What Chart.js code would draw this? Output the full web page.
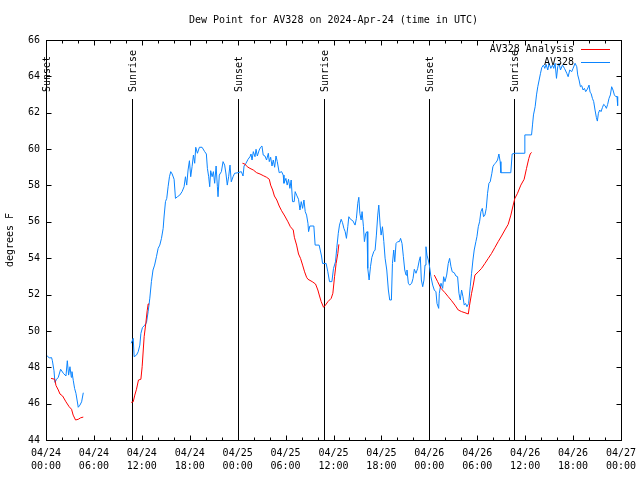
<!DOCTYPE html>
<html>
<head>
<meta charset="utf-8">
<script src="https://cdn.jsdelivr.net/npm/chart.js@4"></script>
<style>
  html, body { margin: 0; padding: 0; background: #fff; }
  canvas { display: block; }
</style>
</head>
<body>
<canvas id="dew-chart" width="640" height="480"></canvas>
<script>
// hours since 04/24 00:00 UTC, null = gap in the record
const obsHours = [
  0.08, 0.42, 0.7, 0.8, 1.0, 1.12, 1.33, 1.54, 1.83, 2.17, 2.5, 2.67, 2.83, 3.0, 3.17, 3.25, 3.42, 3.58, 3.75, 4.04, 4.25, 4.46, 4.67,
  7,
  10.67, 10.92, 11.04, 11.33, 11.54, 11.75, 11.88, 12.08, 12.38, 12.58, 12.79, 13.0, 13.2, 13.4, 13.6, 13.83, 14.04, 14.25, 14.46, 14.67, 14.79, 14.96,
  15.12, 15.29, 15.46, 15.62, 15.8, 16.04, 16.21, 16.46, 16.75, 17.04, 17.29, 17.46, 17.62, 17.79, 17.96, 18.12, 18.29, 18.46, 18.62, 18.75, 18.96,
  19.21, 19.54, 19.87, 20.08, 20.21, 20.37, 20.5, 20.62, 20.8, 20.96, 21.12, 21.3, 21.46, 21.54, 21.7, 21.96, 22.17, 22.37, 22.54, 22.7, 22.87,
  23.04, 23.2, 23.42, 23.62, 24.04, 24.46, 24.67, 24.8, 25.04, 25.3, 25.54, 25.67, 25.8, 25.96, 26.17, 26.3, 26.46, 26.7, 26.87, 27.04, 27.2,
  27.42, 27.62, 27.84, 27.96, 28.13, 28.3, 28.46, 28.63, 28.8, 28.96, 29.2, 29.5, 29.7, 29.8, 30.04, 30.2, 30.37, 30.54, 30.7, 30.87, 31.08,
  31.2, 31.38, 31.62, 31.8, 31.96, 32.13, 32.3, 32.46, 32.63, 32.8, 32.88, 33.04, 33.54, 33.7, 34.2, 34.5, 34.63, 35.08, 35.29, 35.5, 35.8,
  36.0, 36.25, 36.42, 36.6, 36.75, 36.96, 37.13, 37.3, 37.46, 37.62, 37.79, 37.92, 38.13, 38.42, 38.7, 38.87, 39.04, 39.17, 39.3, 39.46, 39.58,
  39.75, 39.87, 40.04, 40.2, 40.29, 40.46, 40.63, 40.8, 41.04, 41.21, 41.37, 41.54, 41.67, 41.84, 41.96, 42.13, 42.3, 42.46, 42.67, 42.87,
  43.04, 43.25, 43.38, 43.54, 43.67, 43.83, 44.04, 44.25, 44.4, 44.58, 44.75, 44.92, 45.08, 45.2, 45.37, 45.54, 45.79, 45.96, 46.12, 46.33,
  46.54, 46.75, 46.87, 47.0, 47.17, 47.33, 47.46, 47.58, 47.7, 47.87, 48.0, 48.2, 48.42, 48.62, 48.83, 48.96, 49.17, 49.25, 49.46, 49.67,
  49.79, 49.96, 50.17, 50.37, 50.54, 50.71, 50.87, 51.12, 51.33, 51.54, 51.71, 51.87, 52.04, 52.21, 52.37, 52.54, 52.71, 52.92, 53.12, 53.29,
  53.46, 53.62, 53.83, 53.96, 54.13, 54.29, 54.46, 54.63, 54.79, 54.96, 55.13, 55.29, 55.46, 55.62, 55.83, 55.96, 56.12, 56.33, 56.54, 56.71,
  56.87, 56.96, 58.2, 58.37, 58.71, 59.87, 59.96, 60.8, 60.92, 61.04, 61.25, 61.42, 61.58, 61.75, 61.92, 62.08, 62.29, 62.46, 62.62, 62.83,
  63.0, 63.21, 63.42, 63.58, 63.75, 63.92, 64.08, 64.25, 64.42, 64.67, 64.92, 65.21, 65.38, 65.58, 65.83, 66.0, 66.25, 66.46, 66.58, 66.75,
  66.92, 67.08, 67.25, 67.42, 67.58, 67.79, 68.0, 68.13, 68.25, 68.42, 68.58, 68.75, 68.92, 69.04, 69.17, 69.33, 69.5, 69.67, 69.83, 70.0,
  70.17, 70.33, 70.5, 70.67, 70.83, 71.0, 71.17, 71.33, 71.5, 71.58
];
const obsDewPoint = [
  48.66, 48.51, 48.53, 48.36, 47.81, 47.17, 47.34, 47.45, 47.89, 47.67, 47.52, 48.36, 47.57, 48.03, 47.45, 47.76, 47.26, 46.84, 46.57, 45.8, 45.92, 46.1, 46.6,
  null,
  49.32, 49.59, 48.58, 48.67, 48.85, 49.22, 49.86, 50.19, 50.32, 50.45, 51.06, 51.8, 52.71, 53.35, 53.62, 54.08, 54.54, 54.72, 55.09, 55.64, 56.32, 57.11,
  57.29, 57.93, 58.48, 58.76, 58.63, 58.34, 57.29, 57.38, 57.47, 57.66, 57.93, 58.48, 58.02, 58.85, 59.36, 58.48, 59.03, 59.67, 59.22, 60.1, 59.77,
  60.1, 60.1, 59.86, 59.73, 58.94, 58.48, 57.93, 58.81, 58.48, 58.76, 58.12, 59.07, 57.93, 57.38, 58.57, 58.76, 59.31, 59.12, 58.63, 58.02, 58.48,
  59.12, 58.2, 58.48, 58.67, 58.7, 58.76, 58.52, 59.07, 59.22, 59.44, 59.58, 59.73, 59.4, 59.86, 59.58, 59.99, 59.62, 59.95, 60.1, 60.17, 59.67,
  59.62, 59.4, 59.77, 59.31, 59.55, 59.07, 59.4, 59.0, 59.62, 59.31, 58.7, 58.76, 58.57, 58.12, 58.39, 58.02, 58.34, 57.84, 58.3, 57.11, 57.11,
  57.66, 57.47, 57.24, 56.65, 57.11, 56.74, 57.2, 56.56, 56.37, 55.92, 55.46, 55.77, 55.77, 54.72, 54.72, 54.12, 53.71, 53.71, 53.25, 52.71, 52.71,
  53.44, 53.8, 54.6, 55.37, 55.82, 56.14, 55.95, 55.64, 55.46, 55.09, 55.73, 56.28, 56.14, 56.06, 55.82, 56.19, 57.02, 57.35, 56.47, 56.1, 56.56,
  55.73, 54.91, 55.37, 55.46, 53.44, 52.8, 53.53, 54.04, 54.36, 54.45, 55.27, 56.37, 56.92, 55.82, 55.27, 55.73, 54.91, 54.0, 53.35, 52.25,
  51.7, 51.7, 53.71, 54.45, 53.8, 54.81, 54.91, 54.91, 55.09, 54.81, 54.08, 53.35, 53.07, 53.35, 52.62, 52.52, 52.62, 52.89, 53.39, 53.17,
  53.44, 53.9, 54.08, 52.8, 52.43, 52.8, 53.62, 54.63, 54.17, 53.9, 53.62, 52.98, 52.52, 52.25, 52.15, 51.51, 51.24, 52.07, 52.62, 52.34,
  52.98, 52.71, 53.07, 53.71, 53.99, 53.53, 53.25, 53.2, 53.02, 52.98, 52.07, 51.7, 52.25, 51.88, 51.42, 51.51, 51.33, 51.51, 52.43, 53.17,
  53.9, 54.45, 54.91, 55.18, 55.73, 56.0, 56.56, 56.74, 56.28, 56.37, 56.74, 57.57, 58.12, 58.2, 58.67, 59.03, 59.16, 59.25, 59.4, 59.73,
  59.31, 58.7, 58.7, 59.73, 59.77, 59.77, 60.78, 60.78, 61.33, 61.88, 62.33, 62.98, 63.43, 63.8, 64.17, 64.48, 64.62, 64.44, 64.66, 64.35,
  64.72, 64.44, 64.62, 64.44, 64.72, 63.89, 64.53, 64.72, 64.35, 64.62, 64.44, 64.17, 63.98, 64.35, 64.26, 64.44, 64.72, 64.53, 64.08, 63.8,
  63.43, 63.49, 63.25, 63.34, 63.16, 63.3, 63.52, 63.12, 63.07, 62.79, 62.61, 62.15, 61.73, 61.54, 61.97, 62.15, 62.06, 62.28, 62.46, 62.39,
  62.24, 62.46, 62.79, 62.98, 63.43, 63.25, 62.98, 62.89, 62.89, 62.39
];

const analysisHours = [
  0.63, 1.1, 1.25, 1.54, 1.75, 2.08, 2.5, 2.9, 3.2, 3.4, 3.7, 4.04, 4.33, 4.67,
  7,
  10.67, 10.92, 11.12, 11.33, 11.58, 11.88, 12.04, 12.29, 12.5, 12.67, 12.79, 12.92,
  18,
  24.6, 24.9, 25.2, 25.54, 25.96, 26.38, 26.8, 27.2, 27.62, 27.96, 28.13, 28.38, 28.6, 28.9, 29.2, 29.5, 29.9, 30.3, 30.6, 30.96, 31.1,
  31.38, 31.62, 31.87, 32.13, 32.38, 32.63, 32.8, 33.33, 33.75, 34.04, 34.25, 34.46, 34.75, 35.0, 35.3, 35.71, 35.92, 36.13, 36.33, 36.54, 36.67,
  42,
  48.62, 49.04, 49.46, 49.96, 50.37, 50.79, 51.2, 51.62, 52.04, 52.46, 52.88, 53.04, 53.29, 53.5, 53.71, 54.13, 54.54, 54.96, 55.38, 55.79,
  56.21, 56.62, 57.04, 57.46, 57.87, 58.21, 58.5, 58.71, 59.04, 59.46, 59.87, 60.17, 60.46, 60.63, 60.8
];
const analysisDewPoint = [
  47.39, 47.34, 47.0, 46.75, 46.53, 46.42, 46.1, 45.83, 45.69, 45.37, 45.1, 45.14, 45.22, 45.26,
  null,
  46.07, 46.1, 46.47, 46.79, 47.3, 47.34, 48.03, 49.68, 50.42, 51.11, 51.48, 51.48,
  null,
  59.22, 59.18, 59.03, 58.94, 58.85, 58.7, 58.63, 58.54, 58.45, 58.34, 58.02, 57.75, 57.42, 57.2, 56.87, 56.61, 56.32, 56.0, 55.73, 55.55, 55.15,
  54.72, 54.23, 53.99, 53.62, 53.25, 52.95, 52.84, 52.71, 52.58, 52.25, 51.92, 51.61, 51.3, 51.42, 51.61, 51.79, 52.07, 52.98, 53.71, 54.26, 54.76,
  null,
  53.07, 52.71, 52.34, 52.1, 51.88, 51.66, 51.42, 51.15, 51.06, 51.0, 50.93, 51.42, 52.07, 52.52, 53.07, 53.25, 53.44, 53.71, 53.99, 54.26,
  54.59, 54.91, 55.22, 55.55, 55.86, 56.37, 56.92, 57.29, 57.57, 58.02, 58.34, 58.94, 59.49, 59.73, 59.82
];

const sunHours = [0, 10.75, 24.05, 34.75, 47.95, 58.65];
const sunLabels = ['Sunset', 'Sunrise', 'Sunset', 'Sunrise', 'Sunset', 'Sunrise'];

const xTickLabels = [
  ['04/24', '00:00'], ['04/24', '06:00'], ['04/24', '12:00'], ['04/24', '18:00'],
  ['04/25', '00:00'], ['04/25', '06:00'], ['04/25', '12:00'], ['04/25', '18:00'],
  ['04/26', '00:00'], ['04/26', '06:00'], ['04/26', '12:00'], ['04/26', '18:00'],
  ['04/27', '00:00']
];

const FONT = '"DejaVu Sans Mono", "Liberation Mono", monospace';
const RED = '#ff0000';
const BLUE = '#0a84ff';

function toPoints(hours, values) {
  return hours.map((h, i) => ({ x: h, y: values[i] }));
}

// frame, inward ticks, sunrise/sunset markers, legend and titles, gnuplot style
const gnuplotDecor = {
  id: 'gnuplotDecor',
  beforeDatasetsDraw(chart) {
    const { ctx, chartArea: a, scales: { x } } = chart;
    ctx.save();
    ctx.strokeStyle = '#000';
    ctx.lineWidth = 1;
    ctx.fillStyle = '#000';
    ctx.font = '10px ' + FONT;
    sunHours.forEach((h, i) => {
      const px = Math.round(x.getPixelForValue(h)) + 0.5;
      ctx.beginPath();
      ctx.moveTo(px, 99);
      ctx.lineTo(px, a.bottom);
      ctx.stroke();
      ctx.save();
      ctx.translate(px + 0.5, 92);
      ctx.rotate(-Math.PI / 2);
      ctx.textAlign = 'left';
      ctx.textBaseline = 'middle';
      ctx.fillText(sunLabels[i], 0, 0);
      ctx.restore();
    });
    ctx.restore();
  },
  afterDraw(chart) {
    const { ctx, chartArea: a, scales: { x, y } } = chart;
    ctx.save();
    ctx.strokeStyle = '#000';
    ctx.lineWidth = 1;
    const L = Math.round(a.left) + 0.5, R = Math.round(a.right) + 0.5;
    const T = Math.round(a.top) + 0.5, B = Math.round(a.bottom) + 0.5;
    ctx.strokeRect(L, T, R - L, B - T);

    ctx.beginPath();
    for (let h = 2; h < 72; h += 2) {
      const px = Math.round(x.getPixelForValue(h)) + 0.5;
      const len = h % 6 === 0 ? 5 : 3;
      ctx.moveTo(px, B); ctx.lineTo(px, B - len);
      ctx.moveTo(px, T); ctx.lineTo(px, T + len);
    }
    for (let v = 46; v < 66; v += 2) {
      const py = Math.round(y.getPixelForValue(v)) + 0.5;
      ctx.moveTo(L, py); ctx.lineTo(L + 5, py);
      ctx.moveTo(R, py); ctx.lineTo(R - 5, py);
    }
    ctx.stroke();

    ctx.fillStyle = '#000';
    ctx.font = '10px ' + FONT;
    ctx.textAlign = 'center';
    ctx.textBaseline = 'middle';
    ctx.fillText('Dew Point for AV328 on 2024-Apr-24 (time in UTC)', (a.left + a.right) / 2, 20);

    ctx.save();
    ctx.translate(10, 240);
    ctx.rotate(-Math.PI / 2);
    ctx.fillText('degrees F', 0, 0);
    ctx.restore();

    const rows = [['AV328 Analysis', RED, 49.5], ['AV328', BLUE, 62.5]];
    rows.forEach(([label, color, ly]) => {
      ctx.fillStyle = '#000';
      ctx.textAlign = 'right';
      ctx.fillText(label, 574, ly);
      ctx.strokeStyle = color;
      ctx.beginPath();
      ctx.moveTo(581, Math.round(ly) - 0.5);
      ctx.lineTo(610, Math.round(ly) - 0.5);
      ctx.stroke();
    });
    ctx.restore();
  }
};

const lineStyle = { borderWidth: 1, pointRadius: 0, tension: 0, spanGaps: false, fill: false };

new Chart(document.getElementById('dew-chart').getContext('2d'), {
  type: 'line',
  data: {
    datasets: [
      { label: 'AV328 Analysis', data: toPoints(analysisHours, analysisDewPoint), borderColor: RED, ...lineStyle },
      { label: 'AV328', data: toPoints(obsHours, obsDewPoint), borderColor: BLUE, ...lineStyle },
    ],
  },
  options: {
    responsive: false,
    animation: false,
    events: [],
    layout: { padding: { top: 40, right: 19, left: 0, bottom: 0 } },
    plugins: {
      legend: { display: false },
      title: { display: false },
      tooltip: { enabled: false },
    },
    scales: {
      x: {
        type: 'linear',
        min: 0,
        max: 72,
        grid: { display: false, drawTicks: false },
        border: { display: false },
        ticks: {
          stepSize: 6,
          autoSkip: false,
          maxRotation: 0,
          padding: 7,
          color: '#000',
          font: { family: FONT, size: 10, lineHeight: 1.3 },
          callback: v => xTickLabels[Math.round(v / 6)],
        },
        afterFit: s => { s.height = 40; s.paddingLeft = 0; s.paddingRight = 0; },
      },
      y: {
        min: 44,
        max: 66,
        grid: { display: false, drawTicks: false },
        border: { display: false },
        ticks: {
          stepSize: 2,
          padding: 6,
          color: '#000',
          font: { family: FONT, size: 10 },
        },
        afterFit: s => { s.width = 46; s.paddingTop = 0; s.paddingBottom = 0; },
      },
    },
  },
  plugins: [gnuplotDecor],
});
</script>
</body>
</html>
